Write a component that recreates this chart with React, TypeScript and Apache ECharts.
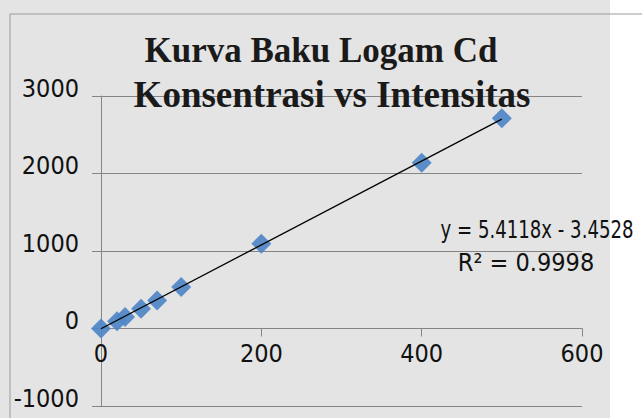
import React, { useEffect, useRef } from "react";
import * as echarts from "echarts";

const titleLines = ["Kurva Baku Logam Cd", "Konsentrasi vs Intensitas"];
const xValues = [0, 20, 30, 50, 70, 100, 200, 400, 500];
const yValues = [0, 95, 150, 255, 360, 535, 1095, 2138, 2712];
const slope = 5.4118;
const intercept = -3.4528;
const equationText = "y = 5.4118x - 3.4528";
const r2Text = "R² = 0.9998";
const trendRange = [0, 500];

const SANS = "'DejaVu Sans Condensed', 'DejaVu Sans', sans-serif";
const SERIF = "'Liberation Serif', 'Times New Roman', serif";

const GRID_TOP = 96;
const GRID_BOTTOM = 12;
const Y_MIN = -1000;
const Y_MAX = 3000;

export default function App() {
  const ref = useRef<HTMLDivElement>(null);
  useEffect(() => {
    document.body.style.margin = "0";
    if (!ref.current) return;
    const chart = echarts.init(ref.current, undefined, { renderer: "svg" });
    const points = xValues.map((x, i) => [x, yValues[i]]);
    const trend = trendRange.map((x) => [x, slope * x + intercept]);
    const gridHeight = 418 - GRID_TOP - GRID_BOTTOM;
    const zeroOffset = -((0 - Y_MIN) / (Y_MAX - Y_MIN)) * gridHeight;
    chart.setOption({
      animation: false,
      backgroundColor: "#ffffff",
      grid: {
        left: 101,
        right: 60,
        top: GRID_TOP,
        bottom: GRID_BOTTOM,
        containLabel: false,
        outerBoundsMode: "none",
      },
      xAxis: {
        type: "value",
        min: 0,
        max: 600,
        interval: 200,
        position: "bottom",
        offset: zeroOffset,
        axisLine: { show: true, onZero: false, lineStyle: { color: "#858585", width: 1 } },
        axisTick: { show: true, length: 8, inside: false, lineStyle: { color: "#858585" } },
        splitLine: { show: false },
        axisLabel: {
          fontFamily: SANS,
          fontSize: 25,
          color: "#111",
          margin: 12,
          formatter: (v: number) => String(v),
        },
      },
      yAxis: {
        type: "value",
        min: Y_MIN,
        max: Y_MAX,
        interval: 1000,
        axisLine: { show: true, onZero: false, lineStyle: { color: "#858585", width: 1 } },
        axisTick: { show: true, length: 9, lineStyle: { color: "#858585" } },
        splitLine: { show: true, lineStyle: { color: "#858585", width: 1 } },
        axisLabel: {
          fontFamily: SANS,
          fontSize: 25,
          color: "#111",
          margin: 22,
          verticalAlign: "bottom",
          lineHeight: 16,
          formatter: (v: number) => String(v),
        },
      },
      graphic: [
        {
          type: "rect",
          z: -100,
          silent: true,
          shape: { x: 0, y: 0, width: 610, height: 418 },
          style: { fill: "#e4e4e4" },
        },
        {
          type: "line",
          z: -90,
          silent: true,
          shape: { x1: 10, y1: 14, x2: 642, y2: 14 },
          style: { stroke: "#9a9a9a", lineWidth: 1 },
        },
        {
          type: "line",
          z: -90,
          silent: true,
          shape: { x1: 10, y1: 14, x2: 10, y2: 418 },
          style: { stroke: "#9a9a9a", lineWidth: 1 },
        },
        {
          type: "text",
          z: 100,
          x: 321,
          y: 50,
          style: {
            text: titleLines[0],
            textAlign: "center",
            textVerticalAlign: "middle",
            font: `bold 35px ${SERIF}`,
            fill: "#1a1a1a",
          },
        },
        {
          type: "text",
          z: 100,
          x: 332,
          y: 94,
          style: {
            text: titleLines[1],
            textAlign: "center",
            textVerticalAlign: "middle",
            font: `bold 37px ${SERIF}`,
            fill: "#1a1a1a",
          },
        },
        {
          type: "text",
          z: 100,
          x: 537,
          y: 229,
          scaleX: 0.84,
          style: {
            text: equationText,
            textAlign: "center",
            textVerticalAlign: "middle",
            font: `24px ${SANS}`,
            fill: "#111",
          },
        },
        {
          type: "text",
          z: 100,
          x: 526,
          y: 262,
          style: {
            text: r2Text,
            textAlign: "center",
            textVerticalAlign: "middle",
            font: `25px ${SANS}`,
            fill: "#111",
          },
        },
      ],
      series: [
        {
          type: "scatter",
          data: points,
          symbol: "diamond",
          symbolSize: 20,
          itemStyle: { color: "#4f87c6", opacity: 0.92 },
        },
        {
          type: "line",
          data: trend,
          symbol: "none",
          lineStyle: { color: "#000", width: 1.3 },
        },
      ],
    });
    return () => chart.dispose();
  }, []);
  return <div ref={ref} style={{ width: 642, height: 418 }} />;
}
